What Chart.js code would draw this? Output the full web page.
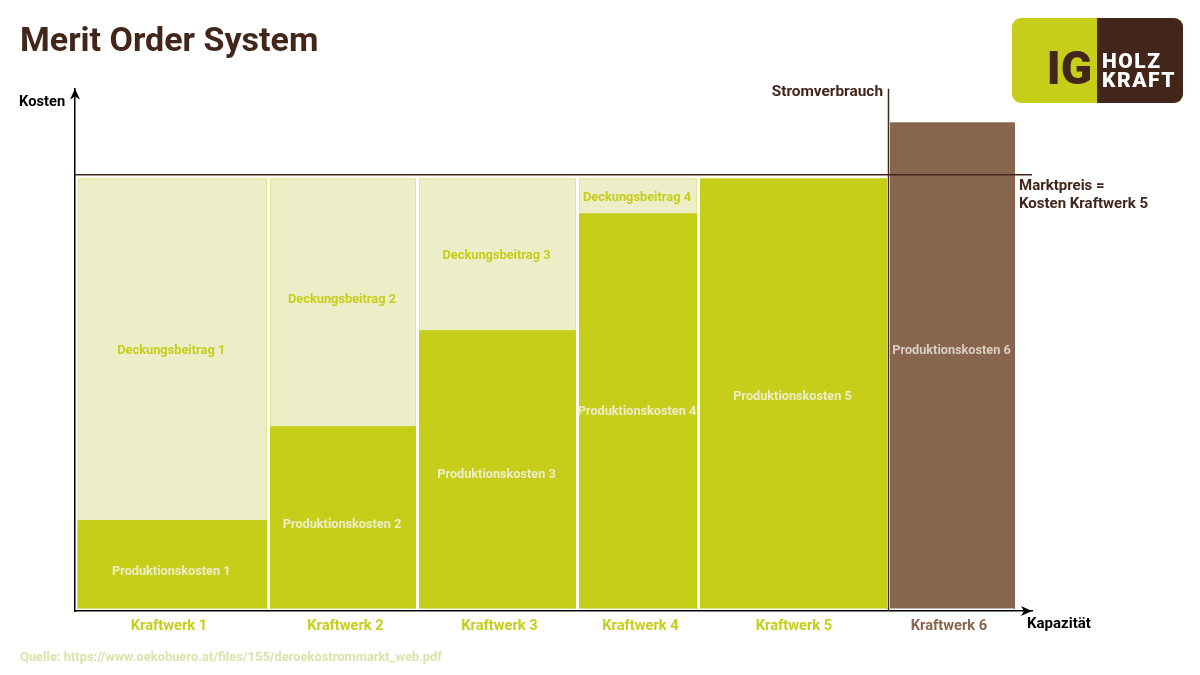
<!DOCTYPE html>
<html>
<head>
<meta charset="utf-8">
<style>
  html, body { margin: 0; padding: 0; background: #fff; }
  canvas { display: block; }
</style>
<script src="https://cdn.jsdelivr.net/npm/chart.js@4"></script>
</head>
<body>
<canvas id="myChart" width="1200" height="675"></canvas>
<script>
// Data
const plants = ["Kraftwerk 1", "Kraftwerk 2", "Kraftwerk 3", "Kraftwerk 4", "Kraftwerk 5", "Kraftwerk 6"];
const capacity = [38.5, 29.8, 32, 24.2, 38, 25.6];
const productionCost = [17.6, 36.4, 55.6, 79, 86, 97.2];
const marketPrice = 86.8;

// Text spots, in axis units
const plantLabelX = [18.2, 53.5, 84.3, 112.5, 143.2, 174.2];
const productionLabelY = [7.7, 17.1, 27.1, 39.7, 42.7, 51.9];
const marginLabelY = [51.9, 62.1, 70.9, 82.5];

const GREEN = "#C6CE19";
const PALE = "#EDEDC8";
const BROWN = "#88664E";
const DARK = "#42261A";
const FONT = "Roboto, sans-serif";
const GAP = 0.8;
const X_MIN = -0.6;
const X_MAX = 190.8;
const Y_MIN = -0.5;
const Y_MAX = 104.1;

// Start of each plant on the capacity axis
const starts = [];
capacity.reduce((sum, w, i) => { starts[i] = sum; return sum + w; }, 0);
const stromX = starts[5] - 0.4;

function block(i, top) {
  const x0 = starts[i];
  const x1 = starts[i] + capacity[i] - GAP;
  return [{ x: x0, y: 0 }, { x: x0, y: top }, { x: x1, y: top }, { x: x1, y: 0 }];
}

function blockDataset(i, top, color, edge) {
  return {
    data: block(i, top),
    showLine: true,
    fill: "origin",
    backgroundColor: color,
    borderColor: edge,
    borderWidth: 1,
    pointRadius: 0,
    tension: 0,
  };
}

function lineDataset(points) {
  return {
    data: points,
    showLine: true,
    fill: false,
    borderColor: DARK,
    borderWidth: 1.5,
    pointRadius: 0,
  };
}

const datasets = [
  lineDataset([{ x: X_MIN, y: marketPrice }, { x: X_MAX, y: marketPrice }]),
  lineDataset([{ x: stromX, y: Y_MIN }, { x: stromX, y: Y_MAX }]),
];
plants.forEach((name, i) => {
  const color = i === 5 ? BROWN : GREEN;
  datasets.push(blockDataset(i, productionCost[i], color, color));
});
// pale margin blocks go last so they sit under the production blocks
plants.slice(0, 4).forEach((name, i) => {
  datasets.push(blockDataset(i, productionCost[4], PALE, "#E3E68F"));
});

function text(ctx, str, x, y, size, color, align, weight) {
  ctx.font = (weight || 700) + " " + size + "px " + FONT;
  ctx.fillStyle = color;
  ctx.textAlign = align || "left";
  ctx.textBaseline = "middle";
  ctx.fillText(str, x, y + 1.5);
}

function arrowHead(ctx, x, y, dx, dy) {
  // dx, dy is the direction the arrow points at
  const len = 11, half = 5;
  ctx.fillStyle = "#000";
  ctx.beginPath();
  ctx.moveTo(x, y);
  ctx.lineTo(x - dx * len - dy * half, y - dy * len - dx * half);
  ctx.lineTo(x - dx * (len - 3), y - dy * (len - 3));
  ctx.lineTo(x - dx * len + dy * half, y - dy * len + dx * half);
  ctx.closePath();
  ctx.fill();
}

const annotations = {
  id: "annotations",
  afterDatasetsDraw(chart) {
    const { ctx, chartArea, scales } = chart;
    ctx.save();

    // labels inside the blocks
    plants.forEach((name, i) => {
      const cx = scales.x.getPixelForValue(starts[i] + (capacity[i] - GAP) / 2);
      const c = i === 5 ? "#D9CEC2" : "#EDEDC8";
      text(ctx, "Produktionskosten " + (i + 1), cx - 1, scales.y.getPixelForValue(productionLabelY[i]), 12.7, c, "center");
      if (i < marginLabelY.length) {
        text(ctx, "Deckungsbeitrag " + (i + 1), cx - 1, scales.y.getPixelForValue(marginLabelY[i]), 12.8, GREEN, "center");
      }
    });

    // axis arrows
    arrowHead(ctx, chartArea.left, chartArea.top, 0, -1);
    arrowHead(ctx, chartArea.right, chartArea.bottom, 1, 0);

    // axis captions
    text(ctx, "Kosten", 19, 101, 14.7, "#000");
    text(ctx, "Kapazität", 1027, 622.5, 15, "#000");
    text(ctx, "Stromverbrauch", 883, 90.5, 15.4, DARK, "right");
    text(ctx, "Marktpreis =", 1019, 185, 15, DARK);
    text(ctx, "Kosten Kraftwerk 5", 1019, 203, 15, DARK);
    text(ctx, "Quelle: https://www.oekobuero.at/files/155/deroekostrommarkt_web.pdf", 20, 656.5, 12.9, "#DFE0AC");

    // logo
    ctx.fillStyle = GREEN;
    ctx.beginPath();
    ctx.roundRect(1012, 18, 171, 85, 9);
    ctx.fill();
    ctx.fillStyle = DARK;
    ctx.beginPath();
    ctx.roundRect(1097, 18, 86, 85, [0, 9, 9, 0]);
    ctx.fill();
    text(ctx, "IG", 1092, 71, 46, DARK, "right", 900);
    ctx.letterSpacing = "1.5px";
    text(ctx, "HOLZ", 1102, 61, 21, "#fff", "left", 900);
    text(ctx, "KRAFT", 1102, 80, 21, "#fff", "left", 900);

    ctx.restore();
  },
};

const ctx = document.getElementById("myChart");
const myChart = new Chart(ctx, {
  type: "scatter",
  data: { datasets: datasets },
  plugins: [annotations],
  options: {
    responsive: false,
    animation: false,
    layout: { padding: { left: 20, right: 168, top: 0, bottom: 0 } },
    plugins: {
      legend: { display: false },
      tooltip: { enabled: false },
      title: {
        display: true,
        text: "Merit Order System",
        align: "start",
        color: DARK,
        font: { family: FONT, size: 34, weight: "700" },
        padding: { top: 22, bottom: 25.6 },
      },
    },
    scales: {
      x: {
        type: "linear",
        min: X_MIN,
        max: X_MAX,
        grid: { display: false, drawTicks: false },
        border: { color: "#000", width: 1.5 },
        afterFit(scale) { scale.height = 64; },
        afterBuildTicks(scale) {
          scale.ticks = plantLabelX.map((v) => ({ value: v }));
        },
        ticks: {
          autoSkip: false,
          maxRotation: 0,
          padding: 7,
          font: { family: FONT, size: 14.7, weight: "700" },
          color: (c) => (c.index === 5 ? BROWN : GREEN),
          callback: (value, index) => plants[index],
        },
      },
      y: {
        type: "linear",
        min: Y_MIN,
        max: Y_MAX,
        grid: { display: false },
        border: { color: "#000", width: 1.5 },
        afterFit(scale) { scale.width = 55; },
        ticks: { display: false },
      },
    },
  },
});
</script>
</body>
</html>
